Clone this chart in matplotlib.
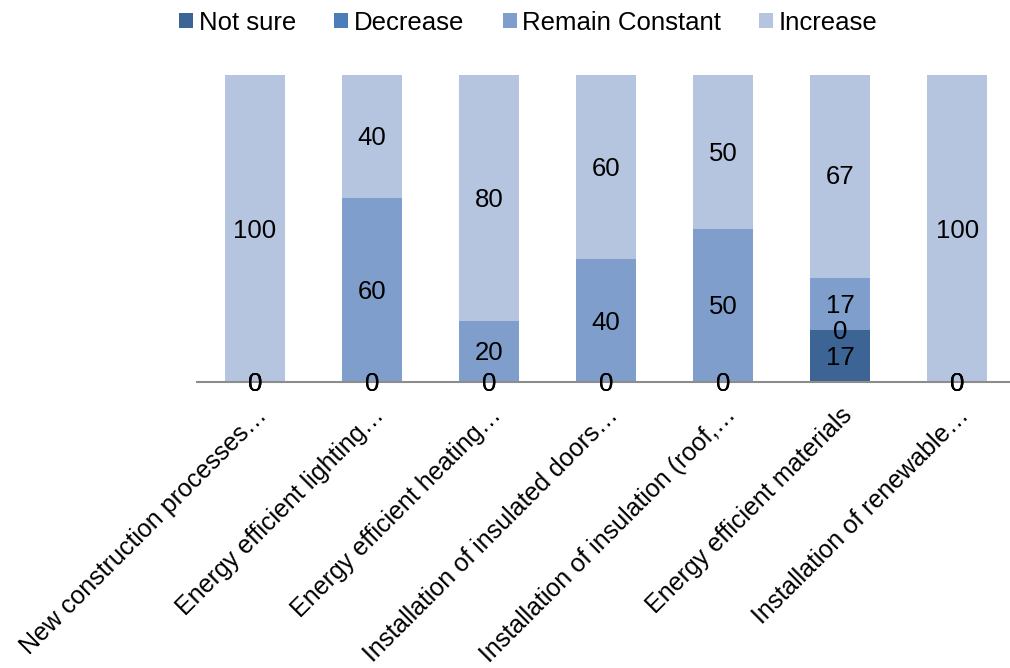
import matplotlib
matplotlib.use("Agg")
import matplotlib.pyplot as plt
from matplotlib.patches import Patch
from matplotlib.transforms import ScaledTranslation

plt.rcParams['font.family'] = ['Liberation Sans', 'DejaVu Sans']

categories = [
    "New construction processes…",
    "Energy efficient lighting…",
    "Energy efficient heating…",
    "Installation of insulated doors…",
    "Installation of insulation (roof,…",
    "Energy efficient materials",
    "Installation of renewable…",
]
series_names = ["Not sure", "Decrease", "Remain Constant", "Increase"]
not_sure = [0, 0, 0, 0, 0, 17, 0]
decrease = [0, 0, 0, 0, 0, 0, 0]
remain_constant = [0, 60, 20, 40, 50, 17, 0]
increase = [100, 40, 80, 60, 50, 67, 100]

series = [not_sure, decrease, remain_constant, increase]
colors = ["#3C6494", "#4A7EBB", "#809ECB", "#B5C4DF"]

FS = 18.5
TICK_FS = 18

fig = plt.figure(figsize=(10.10, 6.68), dpi=100)
ax = fig.add_axes([0.1946, 0.428, 0.811, 0.4596])

x = list(range(len(categories)))
bottom = [0] * len(categories)
label_shift = ScaledTranslation(0, -0.02, fig.dpi_scale_trans)
for vals, col, name in zip(series, colors, series_names):
    ax.bar(x, vals, width=0.51, bottom=bottom, color=col, label=name, zorder=2)
    for xi, v, b in zip(x, vals, bottom):
        ax.text(xi, b + v / 2, f"{v:g}", ha="center", va="center",
                fontsize=FS, color="black", zorder=4,
                transform=ax.transData + label_shift)
    bottom = [b + v for b, v in zip(bottom, vals)]

ax.set_xlim(-0.5, len(categories) - 0.5)
ax.set_ylim(0, 100)
for s in ["top", "right", "left"]:
    ax.spines[s].set_visible(False)
ax.spines["bottom"].set_color("#8C8C8C")
ax.spines["bottom"].set_linewidth(1.5)
ax.spines["bottom"].set_zorder(3)
ax.set_yticks([])
ax.set_xticks(x)
ax.set_xticklabels(categories, rotation=45, ha="right", va="top",
                   rotation_mode="anchor", fontsize=TICK_FS)
ax.tick_params(axis="x", length=0, pad=15)
for lbl in ax.get_xticklabels():
    lbl.set_transform(lbl.get_transform() + ScaledTranslation(0.0, 0, fig.dpi_scale_trans))

handles = [Patch(facecolor=c, label=n) for c, n in zip(colors, series_names)]
fig.legend(handles=handles, loc="center", bbox_to_anchor=(0.523, 0.966), ncol=4,
           frameon=False, fontsize=FS, handlelength=0.55, handleheight=0.55,
           handletextpad=0.2, columnspacing=1.5)

fig.savefig("out.png", dpi=100)
